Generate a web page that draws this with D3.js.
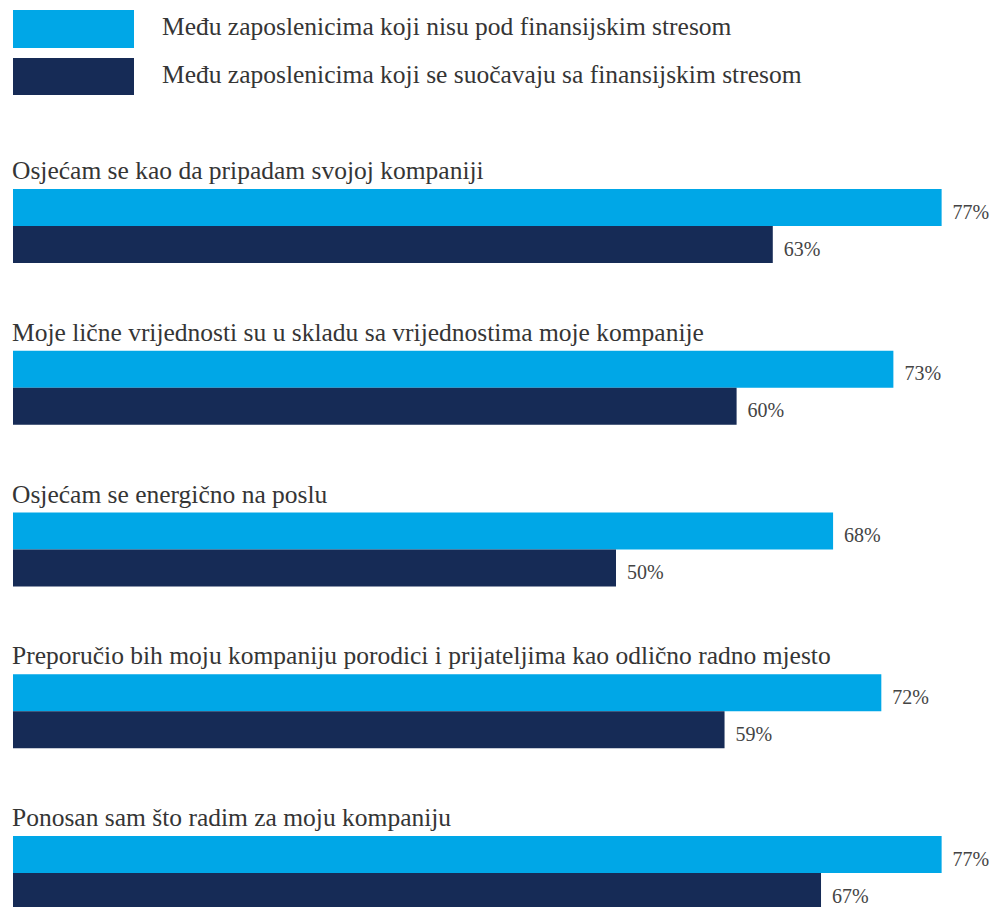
<!DOCTYPE html>
<html>
<head>
<meta charset="utf-8">
<script src="https://cdn.jsdelivr.net/npm/d3@7"></script>
</head>
<body style="margin:0; background:#ffffff">
<svg id="chart" width="995" height="907" style="font-family: 'Liberation Serif'"></svg>
<script>
// Statements asked in the survey
const categories = [
  "Osjećam se kao da pripadam svojoj kompaniji",
  "Moje lične vrijednosti su u skladu sa vrijednostima moje kompanije",
  "Osjećam se energično na poslu",
  "Preporučio bih moju kompaniju porodici i prijateljima kao odlično radno mjesto",
  "Ponosan sam što radim za moju kompaniju"
];

// Series names (legend)
const seriesNames = [
  "Među zaposlenicima koji nisu pod finansijskim stresom",
  "Među zaposlenicima koji se suočavaju sa finansijskim stresom"
];

// Share agreeing, in percent
const notStressed = [77, 73, 68, 72, 77];
const stressed = [63, 60, 50, 59, 67];

const seriesColors = ["#00a7e7", "#162b56"];

const svg = d3.select("#chart");

// Scales
const x = d3.scaleLinear().domain([0, 100]).range([13, 1219]);
const yGroup = d3.scaleBand()
  .domain(categories)
  .range([189, 189 + categories.length * 161.75])
  .paddingInner(0).paddingOuter(0).align(0);
const ySeries = d3.scaleBand().domain([0, 1]).range([0, 74]);

// Legend
const legend = svg.append("g").attr("class", "legend");
const legendRows = [{ y: 10, h: 38 }, { y: 58, h: 37 }];
seriesNames.forEach((name, i) => {
  legend.append("rect")
    .attr("x", 13).attr("y", legendRows[i].y)
    .attr("width", 121).attr("height", legendRows[i].h)
    .attr("fill", seriesColors[i]);
  legend.append("text")
    .attr("x", 162)
    .attr("y", legendRows[i].y + legendRows[i].h / 2 + 6)
    .style("font-family", '"Liberation Serif"')
    .style("font-size", "25.5px")
    .style("fill", "#353535")
    .text(name);
});

// Groups
const data = categories.map((c, i) => ({
  category: c,
  values: [notStressed[i], stressed[i]]
}));

const groups = svg.append("g").selectAll("g.group")
  .data(data)
  .join("g")
  .attr("class", "group")
  .attr("transform", d => `translate(0,${yGroup(d.category)})`);

groups.append("text")
  .attr("class", "cat-label")
  .attr("x", 12)
  .attr("y", -10)
  .style("font-family", '"Liberation Serif"')
  .style("font-size", "25.5px")
  .style("fill", "#353535")
  .text(d => d.category);

const bars = groups.selectAll("g.bar")
  .data(d => d.values.map((v, j) => ({ v, j })))
  .join("g")
  .attr("class", "bar");

bars.append("rect")
  .attr("x", x(0))
  .attr("y", d => ySeries(d.j))
  .attr("width", d => x(d.v) - x(0))
  .attr("height", ySeries.bandwidth())
  .attr("fill", d => seriesColors[d.j]);

bars.append("text")
  .attr("x", d => x(d.v) + 11)
  .attr("y", d => ySeries(d.j) + ySeries.bandwidth() / 2 + 11)
  .style("font-family", '"Liberation Serif"')
  .style("font-size", "20px")
  .style("fill", "#444444")
  .text(d => d.v + "%");
</script>
</body>
</html>
